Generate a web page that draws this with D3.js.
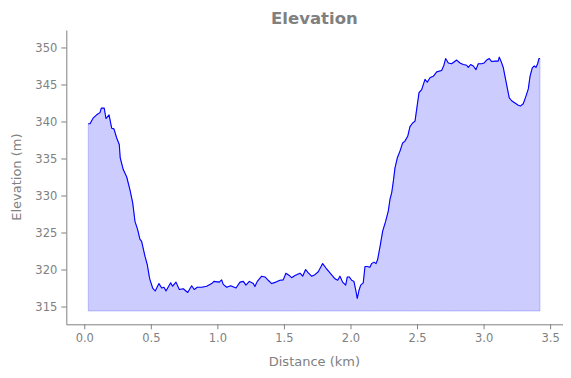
<!DOCTYPE html>
<html>
<head>
<meta charset="utf-8">
<script src="https://cdn.jsdelivr.net/npm/d3@7"></script>
<style>
  html, body { margin: 0; padding: 0; background: #fff; }
  #chart { width: 571px; height: 378px; }
  text { font-family: "DejaVu Sans", sans-serif; }
</style>
</head>
<body>
<div id="chart"></div>
<script>
// Elevation profile
const distanceKm = [
  0.030, 0.043, 0.068, 0.093, 0.118, 0.128, 0.150, 0.163, 0.186, 0.206,
  0.223, 0.243, 0.263, 0.270, 0.293, 0.319, 0.343, 0.364, 0.381, 0.401,
  0.418, 0.431, 0.456, 0.473, 0.488, 0.494, 0.514, 0.533, 0.561, 0.582,
  0.599, 0.614, 0.649, 0.664, 0.689, 0.714, 0.744, 0.777, 0.807, 0.826,
  0.849, 0.882, 0.920, 0.957, 0.974, 1.014, 1.032, 1.044, 1.070, 1.100,
  1.140, 1.170, 1.195, 1.215, 1.240, 1.270, 1.282, 1.300, 1.333, 1.358,
  1.382, 1.408, 1.440, 1.470, 1.495, 1.515, 1.540, 1.558, 1.583, 1.621,
  1.641, 1.663, 1.683, 1.708, 1.733, 1.758, 1.791, 1.816, 1.846, 1.884,
  1.904, 1.921, 1.941, 1.964, 1.976, 1.991, 2.009, 2.026, 2.041, 2.051,
  2.064, 2.077, 2.096, 2.109, 2.126, 2.146, 2.159, 2.177, 2.192, 2.204,
  2.222, 2.242, 2.264, 2.284, 2.297, 2.310, 2.322, 2.334, 2.352, 2.372,
  2.392, 2.409, 2.430, 2.447, 2.467, 2.485, 2.497, 2.515, 2.535, 2.560,
  2.577, 2.597, 2.622, 2.648, 2.685, 2.702, 2.715, 2.735, 2.760, 2.798,
  2.823, 2.847, 2.873, 2.885, 2.903, 2.923, 2.943, 2.960, 2.986, 3.003,
  3.023, 3.043, 3.061, 3.086, 3.110, 3.118, 3.131, 3.148, 3.161, 3.178,
  3.193, 3.211, 3.236, 3.261, 3.279, 3.298, 3.318, 3.336, 3.349, 3.366,
  3.381, 3.394, 3.406, 3.416, 3.424
];
const elevationM = [
  339.7, 339.7, 340.5, 340.9, 341.2, 341.8, 341.8, 340.4, 340.9, 339.1,
  339.0, 337.8, 336.9, 335.1, 333.5, 332.5, 330.8, 329.0, 326.5, 325.4,
  324.1, 323.8, 321.8, 320.7, 319.1, 318.6, 317.5, 317.1, 318.1, 317.5,
  317.6, 317.1, 318.2, 317.75, 318.3, 317.3, 317.4, 316.9, 317.8, 317.3,
  317.6, 317.6, 317.75, 318.1, 318.4, 318.3, 318.6, 318.0, 317.6, 317.8,
  317.5, 318.3, 318.4, 317.9, 318.4, 318.1, 317.7, 318.4, 319.1, 319.0,
  318.55, 318.1, 318.3, 318.55, 318.6, 319.5, 319.2, 318.9, 319.2, 319.5,
  319.1, 320.0, 319.55, 319.1, 319.3, 319.7, 320.8, 320.2, 319.55, 318.75,
  318.55, 319.1, 318.3, 317.9, 319.0, 319.0, 318.55, 318.4, 317.1, 316.1,
  317.2, 317.9, 318.2, 320.4, 320.4, 320.3, 320.8, 321.0, 320.8, 321.35,
  323.1, 325.2, 326.5, 327.9, 329.5, 330.4, 331.9, 333.7, 335.1, 336.0,
  337.1, 337.35, 338.0, 339.3, 339.8, 340.05, 341.6, 343.9, 344.3, 345.7,
  345.3, 345.9, 346.1, 346.7, 346.9, 347.6, 348.5, 347.9, 347.8, 348.3,
  347.9, 347.7, 347.6, 347.3, 347.7, 347.5, 347.0, 347.8, 347.8, 347.9,
  348.3, 348.5, 348.1, 348.15, 348.15, 348.7, 348.15, 347.3, 346.1, 344.55,
  343.2, 342.8, 342.5, 342.2, 342.1, 342.4, 343.4, 344.4, 346.1, 347.25,
  347.5, 347.3, 347.8, 348.5, 348.5
];
const fillBase = 314.4;
const xTicks = [0, 0.5, 1.0, 1.5, 2.0, 2.5, 3.0, 3.5];
const yTicks = [315, 320, 325, 330, 335, 340, 345, 350];

const W = 571, H = 378;
const M = {t: 30, r: 8.5, b: 53.7, l: 66.3};
const grey = "#808080";

const profile = distanceKm.map((d, i) => ({d, e: elevationM[i]}));

const svg = d3.select("#chart").append("svg")
  .attr("width", W).attr("height", H);

const x = d3.scaleLinear()
  .domain([-0.135, 3.593])
  .range([M.l, W - M.r]);

const y = d3.scaleLinear()
  .domain([312.6, 352.36])
  .range([H - M.b, M.t]);

// filled area under the profile
const area = d3.area()
  .x(p => x(p.d))
  .y0(y(fillBase))
  .y1(p => y(p.e));

svg.append("path")
  .datum(profile)
  .attr("d", area)
  .attr("fill", "rgba(0,0,255,0.2)")
  .attr("stroke", "rgba(0,0,255,0.2)")
  .attr("stroke-width", 1);

const line = d3.line()
  .x(p => x(p.d))
  .y(p => y(p.e));

svg.append("path")
  .datum(profile)
  .attr("d", line)
  .attr("fill", "none")
  .attr("stroke", "#0000ff")
  .attr("stroke-width", 1.1)
  .attr("stroke-linejoin", "round");

// axes
const xAxis = svg.append("g")
  .attr("transform", `translate(0, ${H - M.b})`)
  .call(d3.axisBottom(x).tickValues(xTicks).tickFormat(d3.format(".1f"))
    .tickSize(5).tickSizeOuter(0).tickPadding(5));

const yAxis = svg.append("g")
  .attr("transform", `translate(${M.l}, 0)`)
  .call(d3.axisLeft(y).tickValues(yTicks).tickFormat(d3.format("d"))
    .tickSize(5).tickSizeOuter(0).tickPadding(4));

[xAxis, yAxis].forEach(g => {
  g.select(".domain").attr("stroke", grey).attr("stroke-width", 1);
  g.selectAll(".tick line").attr("stroke", grey).attr("stroke-width", 1);
  g.selectAll(".tick text")
    .attr("fill", grey)
    .attr("font-size", "11.5px")
    .attr("font-family", "DejaVu Sans, sans-serif");
});

// title and axis labels
svg.append("text")
  .attr("x", (M.l + W - M.r) / 2)
  .attr("y", 24)
  .attr("text-anchor", "middle")
  .attr("font-size", "16.5px")
  .attr("font-weight", "bold")
  .attr("fill", grey)
  .text("Elevation");

svg.append("text")
  .attr("x", (M.l + W - M.r) / 2)
  .attr("y", 366)
  .attr("text-anchor", "middle")
  .attr("font-size", "13px")
  .attr("fill", grey)
  .text("Distance (km)");

svg.append("text")
  .attr("transform", `translate(21, ${(M.t + H - M.b) / 2}) rotate(-90)`)
  .attr("text-anchor", "middle")
  .attr("font-size", "13px")
  .attr("fill", grey)
  .text("Elevation (m)");
</script>
</body>
</html>
